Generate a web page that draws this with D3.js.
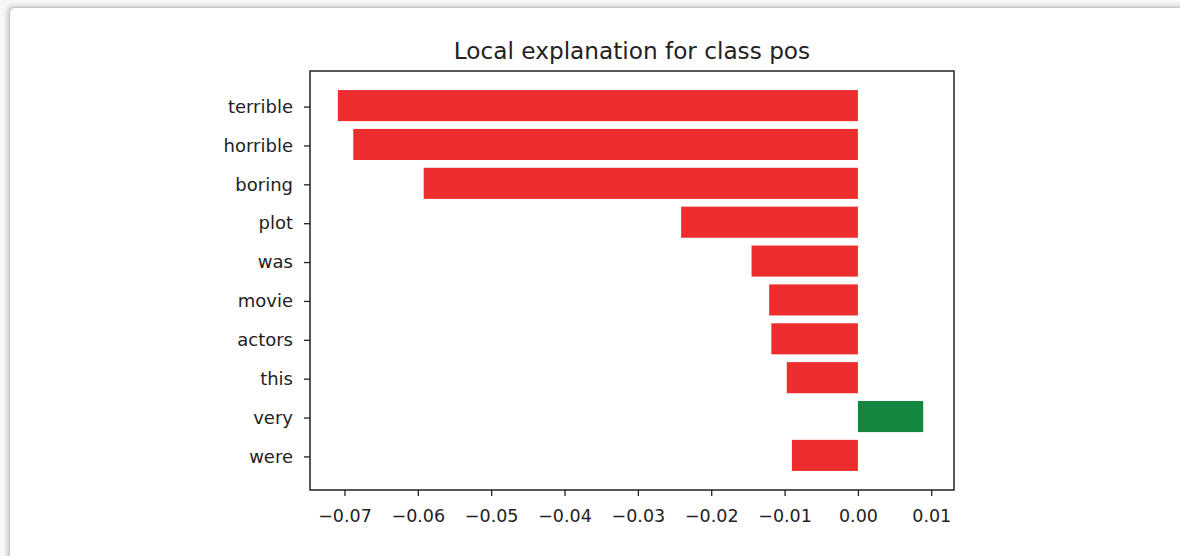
<!DOCTYPE html>
<html>
<head>
<meta charset="utf-8">
<script src="https://cdn.jsdelivr.net/npm/d3@7"></script>
<style>
  body { margin: 0; background: #f7f7f7; width: 1180px; height: 556px; overflow: hidden; position: relative; }
  #card { position: absolute; left: 9px; top: 7px; width: 1200px; height: 600px; background: #fff;
          border: 1px solid #c8c8c8; border-radius: 6px; box-shadow: -2px -1px 4px rgba(0,0,0,0.18); }
  svg { position: absolute; left: 0; top: 0; }
  text { font-family: "DejaVu Sans", sans-serif; fill: #222; }
</style>
</head>
<body>
<div id="card"></div>
<script>
// lime weights for class pos
var features = ["terrible", "horrible", "boring", "plot", "was", "movie", "actors", "this", "very", "were"];
var weights = [-0.0709, -0.0688, -0.0592, -0.0241, -0.0145, -0.0121, -0.0118, -0.0097, 0.0089, -0.0090];
var xTicks = [-0.07, -0.06, -0.05, -0.04, -0.03, -0.02, -0.01, 0.00, 0.01];
var xLimits = [-0.0747, 0.0131];
var title = "Local explanation for class pos";

var w = 1180, h = 556;
var plotLeft = 310, plotRight = 954, plotTop = 71, plotBottom = 490;

var svg = d3.select("body").append("svg")
    .attr("width", w)
    .attr("height", h);

var x = d3.scaleLinear().domain(xLimits).range([plotLeft, plotRight]);
// bars at 0..n-1 from the top, height 0.8, with 5% margin
var n = features.length;
var y = d3.scaleLinear().domain([-0.89, n - 1 + 0.89]).range([plotTop, plotBottom]);

// bars
svg.selectAll("rect.bar")
    .data(weights)
    .enter()
    .append("rect")
    .attr("class", "bar")
    .attr("x", function(d) { return Math.min(x(d), x(0)); })
    .attr("y", function(d, i) { return y(i - 0.4); })
    .attr("width", function(d) { return Math.abs(x(d) - x(0)); })
    .attr("height", function(d, i) { return y(i + 0.4) - y(i - 0.4); })
    .attr("fill", function(d) { return d > 0 ? "#13873f" : "#ee2e2e"; });

// x axis
var xAxis = d3.axisBottom(x)
    .tickValues(xTicks)
    .tickSize(6)
    .tickPadding(14)
    .tickFormat(function(d) { return d3.format(".2f")(d).replace("-", "\u2212"); });

var gx = svg.append("g")
    .attr("transform", "translate(0," + plotBottom + ")")
    .call(xAxis);
gx.select(".domain").remove();
gx.selectAll("line").attr("stroke", "#222").attr("stroke-width", 1.3);
gx.selectAll("text").style("font-size", "17.5px").attr("fill", "#222");

// y axis
var yAxis = d3.axisLeft(y)
    .tickValues(d3.range(n))
    .tickSize(6)
    .tickPadding(11)
    .tickFormat(function(d) { return features[d]; });

var gy = svg.append("g")
    .attr("transform", "translate(" + plotLeft + ",1)")
    .call(yAxis);
gy.select(".domain").remove();
gy.selectAll("line").attr("stroke", "#222").attr("stroke-width", 1.3);
gy.selectAll("text").style("font-size", "18px").attr("fill", "#222");

// frame
svg.append("rect")
    .attr("x", plotLeft)
    .attr("y", plotTop)
    .attr("width", plotRight - plotLeft)
    .attr("height", plotBottom - plotTop)
    .attr("fill", "none")
    .attr("stroke", "#222")
    .attr("stroke-width", 1.5);

// title
svg.append("text")
    .attr("x", (plotLeft + plotRight) / 2)
    .attr("y", 59)
    .attr("text-anchor", "middle")
    .style("font-size", "23.2px")
    .text(title);
</script>
</body>
</html>
